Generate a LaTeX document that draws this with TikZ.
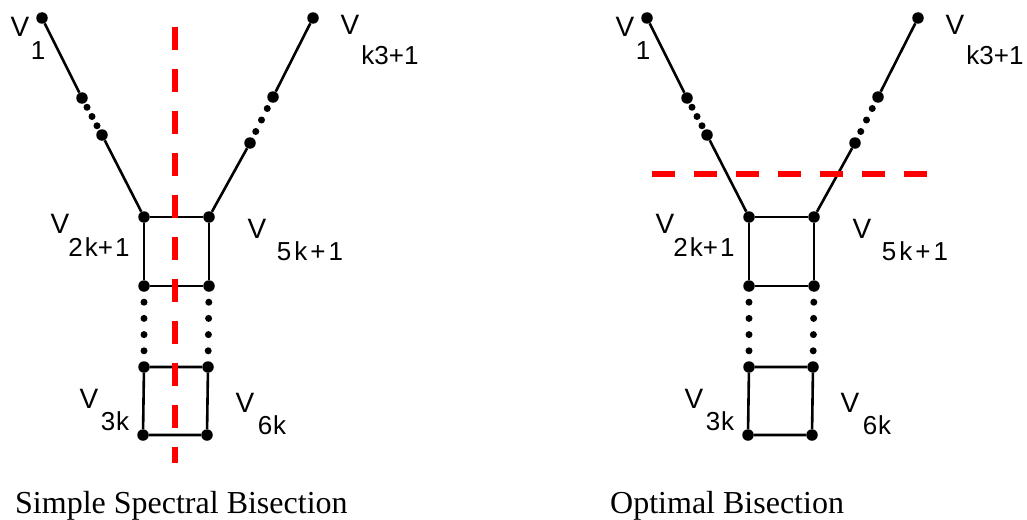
\documentclass[tikz,border=0pt]{standalone}
\usepackage{fontspec}
\setmainfont{Liberation Serif}
\newfontfamily\lblfont{Liberation Sans}
\usetikzlibrary{calc}

\tikzset{
  vtx/.style={circle,fill=black,inner sep=0pt,minimum size=11.5pt},
  pip/.style={circle,fill=black,inner sep=0pt,minimum size=7pt},
  edge/.style={line width=2.6pt},
  vlbl/.style={inner sep=0pt,font=\lblfont\fontsize{28}{28}\selectfont},
  slbl/.style={inner sep=0pt,font=\lblfont\fontsize{26}{26}\selectfont},
  cut/.style={red,line width=6pt,dash pattern=on 23pt off 19pt},
  caption/.style={inner sep=0pt,anchor=base west,font=\fontsize{32}{32}\selectfont}
}

\begin{document}
\begin{tikzpicture}[x=1pt,y=-1pt]
\useasboundingbox (0,0) rectangle (1027,519);

% the same graph twice
\foreach \s/\p in {0/L,605/R}{
\begin{scope}[xshift=\s pt]
  \node[vtx] (\p-tl) at (42,18) {};
  \node[vtx] (\p-tr) at (313,18) {};
  \node[vtx] (\p-la) at (82,98) {};
  \node[vtx] (\p-lb) at (102,135) {};
  \node[vtx] (\p-ra) at (273,97) {};
  \node[vtx] (\p-rb) at (250,143) {};
  \node[vtx] (\p-s1) at (144,217) {};
  \node[vtx] (\p-s2) at (209,217) {};
  \node[vtx] (\p-s3) at (209,286) {};
  \node[vtx] (\p-s4) at (144,286) {};
  \node[vtx] (\p-t1) at (144,367) {};
  \node[vtx] (\p-t2) at (208,367) {};
  \node[vtx] (\p-t3) at (207,435) {};
  \node[vtx] (\p-t4) at (143,435) {};
  \draw[edge] (\p-tl) -- (\p-la);
  \draw[edge] (\p-lb) -- (\p-s1);
  \draw[edge] (\p-tr) -- (\p-ra);
  \draw[edge] (\p-rb) -- (\p-s2);
  \draw[edge] (\p-s1) -- (\p-s2) -- (\p-s3) -- (\p-s4) -- (\p-s1);
  \draw[edge] (\p-t1) -- (\p-t2) -- (\p-t3) -- (\p-t4) -- (\p-t1);
  \foreach \i in {1,2,3}{
    \node[pip] (\p-ld\i) at ($(\p-la)!\i/4!(\p-lb)$) {};
    \node[pip] (\p-rd\i) at ($(\p-ra)!\i/4!(\p-rb)$) {};
  }
  \foreach \i in {1,...,4}{
    \node[pip] (\p-vl\i) at ($(\p-s4)!\i/5!(\p-t1)$) {};
    \node[pip] (\p-vr\i) at ($(\p-s3)!\i/5!(\p-t2)$) {};
  }
  % labels
  \node[vlbl] (\p-V1) at (20,27) {V};
  \node[slbl] (\p-V1s) at (38,51) {1};
  \node[vlbl] (\p-Vk) at (350,25) {V};
  \node[slbl] (\p-Vks) at (390,55) {k3+1};
  \node[vlbl] (\p-V2) at (60,224) {V};
  \node[slbl] (\p-V2s) at (99,247) {2\kern2pt k+\kern2pt1};
  \node[vlbl] (\p-V5) at (257,229) {V};
  \node[slbl] (\p-V5s) at (310,251) {5\kern3pt k\kern3pt+\kern3pt1};
  \node[vlbl] (\p-V3) at (89,399) {V};
  \node[slbl] (\p-V3s) at (115,421) {3\kern1pt k};
  \node[vlbl] (\p-V6) at (245,403) {V};
  \node[slbl] (\p-V6s) at (272,425) {6\kern1pt k};
\end{scope}
}

% cuts
\coordinate (cutLa) at (175,27);
\coordinate (cutLb) at (175,463);
\draw[cut] (cutLa) -- (cutLb);
\coordinate (cutRa) at (652,174);
\coordinate (cutRb) at (928,174);
\draw[cut] (cutRa) -- (cutRb);

\node[caption] (capL) at (15,513) {Simple Spectral Bisection};
\node[caption] (capR) at (610,513) {Optimal Bisection};
\end{tikzpicture}
\end{document}
